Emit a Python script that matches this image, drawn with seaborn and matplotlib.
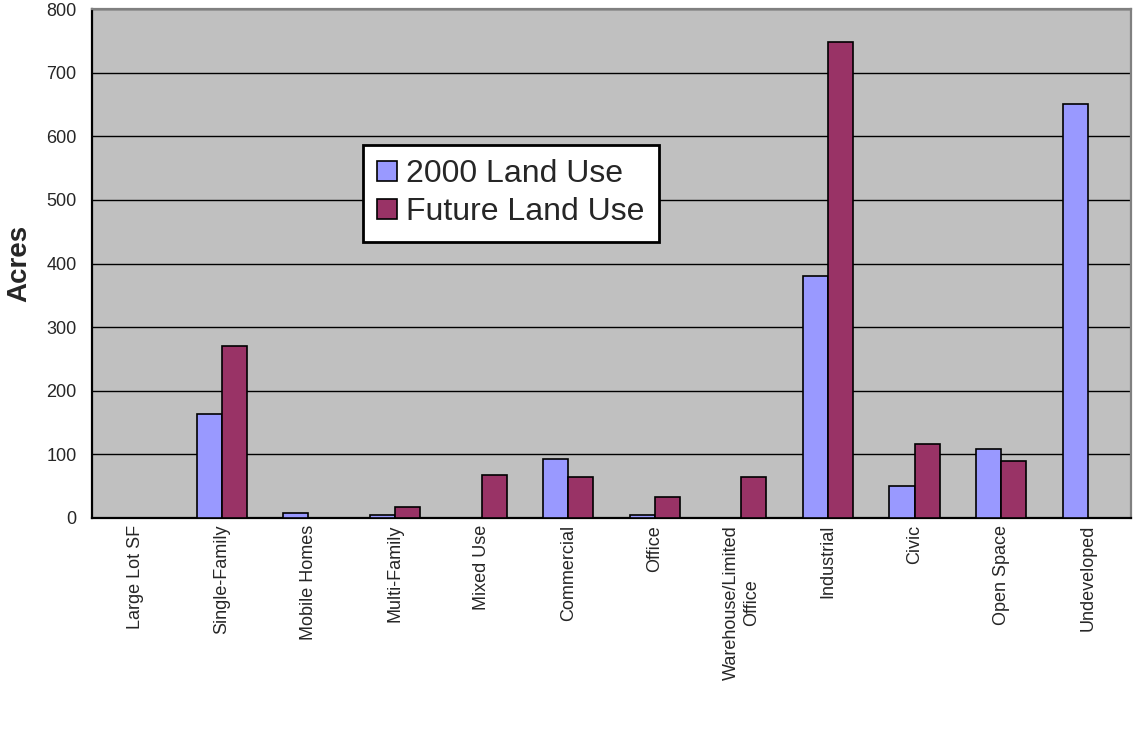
import matplotlib
matplotlib.use("Agg")
import matplotlib.pyplot as plt
import seaborn as sns
import pandas as pd
import numpy as np

categories = ["Large Lot SF", "Single-Family", "Mobile Homes", "Multi-Family",
              "Mixed Use", "Commercial", "Office", "Warehouse/Limited\nOffice",
              "Industrial", "Civic", "Open Space", "Undeveloped"]
land_2000 = [0, 163, 8, 5, 0, 93, 5, 0, 381, 51, 108, 651]
land_future = [0, 270, 0, 17, 68, 65, 33, 65, 748, 117, 89, 0]
series_names = ["2000 Land Use", "Future Land Use"]
colors = ["#9999FF", "#993366"]
y_ticks = [0, 100, 200, 300, 400, 500, 600, 700, 800]

df = pd.DataFrame({
    "Category": categories * 2,
    "Acres": land_2000 + land_future,
    "Series": [series_names[0]] * len(categories) + [series_names[1]] * len(categories),
})

sns.set_style("white")
plt.rcParams["font.family"] = ["Liberation Sans", "DejaVu Sans"]

fig = plt.figure(figsize=(11.34, 7.32), dpi=100)
ax = fig.add_axes([92 / 1134, 1 - 518 / 732, 1039 / 1134, 509 / 732])
ax.set_facecolor("#C0C0C0")

sns.barplot(data=df, x="Category", y="Acres", hue="Series", order=categories,
            hue_order=series_names, palette=colors, width=0.58, gap=0,
            edgecolor="black", linewidth=1.2, saturation=1, ax=ax, zorder=3)

n = len(categories)
ax.set_xlim(-0.5, n - 0.5)
ax.set_ylim(0, 800)
ax.set_yticks(y_ticks)
ax.set_yticklabels([str(v) for v in y_ticks], fontsize=13)
ax.yaxis.grid(True, color="black", linewidth=1.0, zorder=1)
ax.set_axisbelow(True)

# x ticks at category boundaries, labels at centers
ax.set_xticks(np.arange(-0.5, n, 1.0))
ax.set_xticklabels([])
ax.set_xticks(np.arange(n), minor=True)
ax.set_xticklabels(categories, minor=True, rotation=90, fontsize=13,
                   va="top", ha="center", multialignment="center")
ax.tick_params(axis="x", which="major", direction="out", length=6, width=1.5, color="black")
ax.tick_params(axis="x", which="minor", length=0, pad=5)
ax.tick_params(axis="y", direction="out", length=6, width=1.5, color="black", pad=5)

ax.set_xlabel("")
ax.set_ylabel("Acres", fontsize=20, fontweight="bold")
ax.yaxis.set_label_coords(-0.057, 0.5)

for s in ["left", "bottom"]:
    ax.spines[s].set_color("black")
    ax.spines[s].set_linewidth(1.6)
for s in ["top", "right"]:
    ax.spines[s].set_color("#808080")
    ax.spines[s].set_linewidth(1.6)

leg = ax.legend(loc="upper left", bbox_to_anchor=((363 - 92) / 1039, (518 - 145) / 509),
                borderaxespad=0, fontsize=23, frameon=True, fancybox=False,
                edgecolor="black", facecolor="white", framealpha=1,
                handlelength=0.6, handleheight=0.6, handletextpad=0.3,
                borderpad=0.45, labelspacing=0.25)
leg.get_frame().set_linewidth(2)
leg.set_zorder(5)

fig.savefig("out.png", dpi=100, facecolor="white")
